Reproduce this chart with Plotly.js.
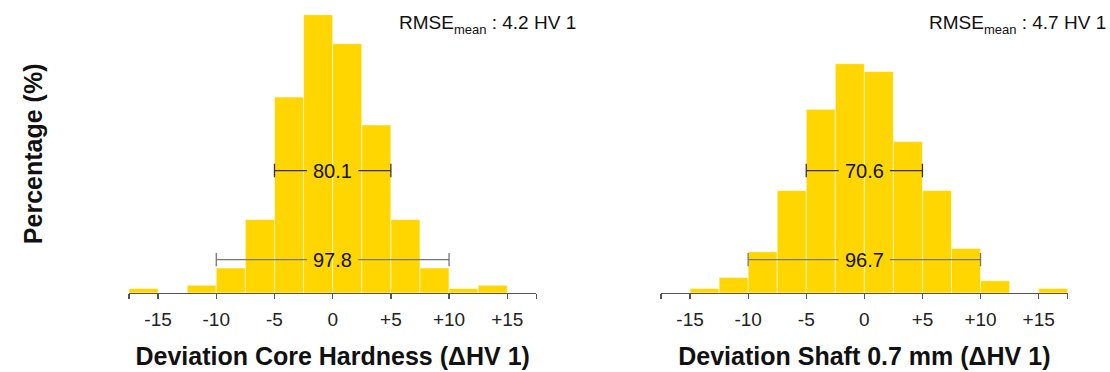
<!DOCTYPE html>
<html>
<head>
<meta charset="utf-8">
<script src="https://cdn.plot.ly/plotly-3.0.1.min.js"></script>
<style>html,body{margin:0;padding:0;background:#fff;}#chart{width:1110px;height:372px;}</style>
</head>
<body>
<div id="chart"></div>
<script>
// ---- data ----
const binCenters = [-16.25,-13.75,-11.25,-8.75,-6.25,-3.75,-1.25,1.25,3.75,6.25,8.75,11.25,13.75,16.25];
const coreHardnessPct = [0.4,0,0.7,2.25,6.6,17.6,25.0,22.4,15.1,6.6,2.25,0.4,0.7,0];
const shaftPct        = [0,0.4,1.4,3.7,9.2,16.5,20.6,19.9,13.6,9.2,4.0,1.1,0,0.4];
const intervalLo = [-5,-10];
const intervalHi = [5,10];
const intervalLevel = [11,3];
const coreShares  = ['80.1','97.8'];
const shaftShares = ['70.6','96.7'];
const rmseCore = '4.2';
const rmseShaft = '4.7';
const tickVals = [-15,-10,-5,0,5,10,15];
const tickText = ['-15','-10','-5','0','+5','+10','+15'];
const axisEnds = [-17.5,17.5];
const xTitles = ['Deviation Core Hardness (ΔHV 1)','Deviation Shaft 0.7 mm (ΔHV 1)'];
const yTitle = 'Percentage (%)';

// ---- style ----
const FONT = 'Liberation Sans, Arial, sans-serif';
const BAR = 'rgb(255,214,0)';
const GAP = 2.2, CAP = 0.6;
const lineColors = ['#333333','#777777'];

const traces = [];
const annotations = [];
function panel(vals, shares, xa, ya) {
  // empty bins (0 %) are simply not drawn
  traces.push({type:'bar', x: binCenters, y: vals.map(v => v === 0 ? null : v), width: 2.5, xaxis: xa, yaxis: ya,
    marker:{color: BAR, line:{color:'rgba(255,255,255,0.55)', width:1}}, hoverinfo:'none', showlegend:false});
  for (let i = 0; i < intervalLo.length; i++) {
    const lo = intervalLo[i], hi = intervalHi[i], lv = intervalLevel[i], c = (lo+hi)/2;
    traces.push({type:'scatter', mode:'lines', xaxis: xa, yaxis: ya, showlegend:false, hoverinfo:'none',
      x:[lo,lo,null,lo,c-GAP,null,c+GAP,hi,null,hi,hi],
      y:[lv-CAP,lv+CAP,null,lv,lv,null,lv,lv,null,lv-CAP,lv+CAP],
      line:{color: lineColors[i], width:1.3}});
    annotations.push({xref: xa, yref: ya, x: c, y: lv, xanchor:'center', yanchor:'middle', showarrow:false,
      text: shares[i], font:{family: FONT, size:20, color:'#111'}});
  }
}
panel(coreHardnessPct, coreShares, 'x', 'y');
panel(shaftPct, shaftShares, 'x2', 'y2');

const SUB = '<span style="font-size:13px;baseline-shift:-5px">mean</span>';
annotations.push(
  {xref:'paper', yref:'paper', x:397/1110, y:1-10/372, xanchor:'left', yanchor:'top', showarrow:false,
   text:'RMSE' + SUB + ' : ' + rmseCore + ' HV 1', font:{family: FONT, size:19, color:'#111'}},
  {xref:'paper', yref:'paper', x:927/1110, y:1-10/372, xanchor:'left', yanchor:'top', showarrow:false,
   text:'RMSE' + SUB + ' : ' + rmseShaft + ' HV 1', font:{family: FONT, size:19, color:'#111'}});

function xaxis(dom, title) {
  return {domain: dom, range: axisEnds, tickmode:'array', tickvals: tickVals, ticktext: tickText,
    ticks:'outside', ticklen:5, tickwidth:1.3, tickcolor:'#555', showline:true, linecolor:'#555', linewidth:1.5,
    minor:{tickmode:'array', tickvals: axisEnds, ticks:'outside', ticklen:5, tickwidth:1.3, tickcolor:'#555', showgrid:false},
    showgrid:false, zeroline:false, fixedrange:true, ticklabelstandoff:4,
    tickfont:{family: FONT, size:19, color:'#222'},
    title:{text: title, font:{family: FONT, size:25, color:'#111', weight:'bold'}, standoff:18}};
}
function yaxis(anchor, title) {
  const a = {domain:[0.2124,0.9605], range:[0,25], anchor: anchor, showline:false, showgrid:false, zeroline:false,
    showticklabels:false, ticks:'', fixedrange:true};
  if (title) a.title = {text: title, font:{family: FONT, size:25, color:'#111', weight:'bold'}, standoff:78};
  return a;
}

const layout = {
  width:1110, height:372, margin:{l:0,r:0,t:0,b:0}, paper_bgcolor:'#fff', plot_bgcolor:'rgba(0,0,0,0)',
  bargap:0, showlegend:false,
  xaxis: xaxis([0.1162,0.4832], xTitles[0]),
  xaxis2: Object.assign(xaxis([0.5955,0.9619], xTitles[1]), {anchor:'y2'}),
  yaxis: yaxis('x', yTitle),
  yaxis2: yaxis('x2', ''),
  annotations: annotations
};
Plotly.newPlot('chart', traces, layout, {staticPlot:true, displayModeBar:false});
</script>
</body>
</html>
